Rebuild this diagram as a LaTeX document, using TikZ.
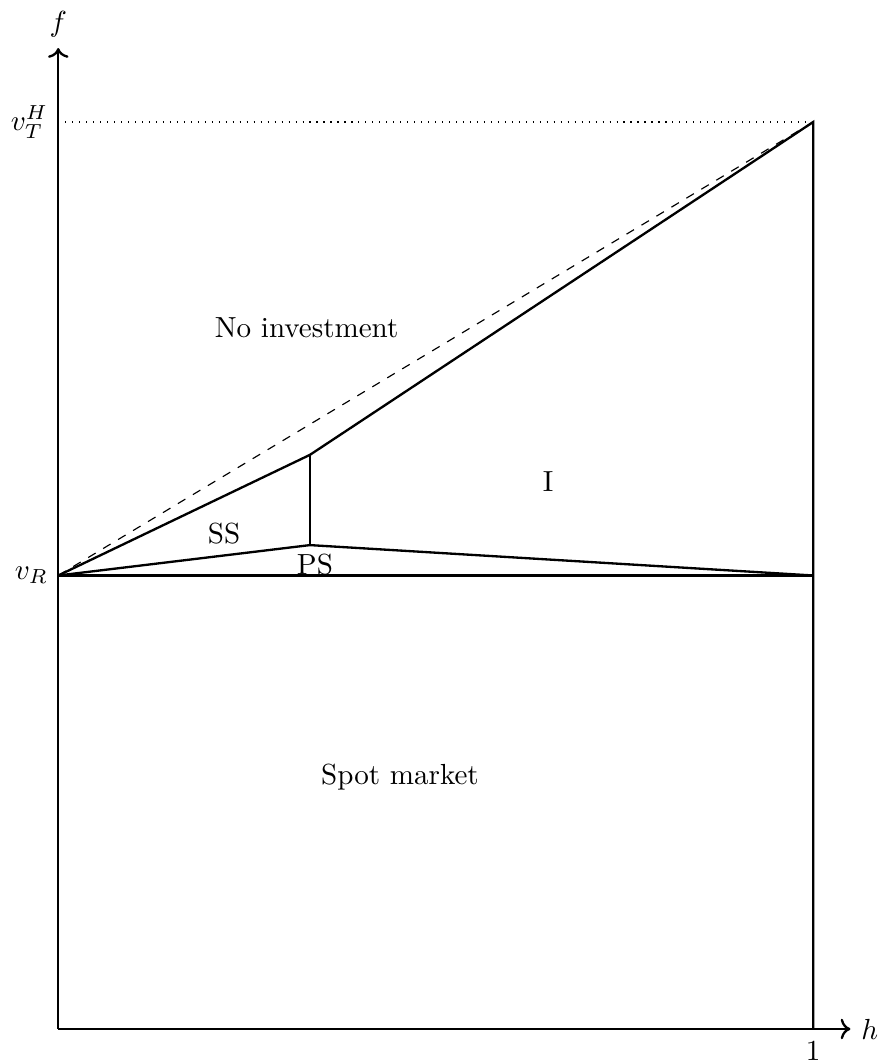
\documentclass[tikz,border=0pt]{standalone}
\usetikzlibrary{positioning,arrows.meta,calc}

\begin{document}
\begin{tikzpicture}[
    x=9.126cm, y=5.482cm,
    every node/.style={font=\normalsize},
    axis/.style={->,thick},
    bound/.style={thick},
    region/.style={inner sep=1pt},
]
\useasboundingbox (-0.0772,-0.0772) rectangle (1.0897,2.269);

% Key points of the frontier
\coordinate (O)  at (0,0);
\coordinate (R)  at (0,1);
\coordinate (R1) at (1,1);
\coordinate (T)  at (0,2);
\coordinate (T1) at (1,2);
\coordinate (K)  at (1/3,1.266);
\coordinate (P)  at (1/3,1.067);
\coordinate (B)  at (1,0);

% Axes
\draw[axis] (O) -- (1.0493,0) node[right] (h) {$h$};
\draw[axis] (O) -- (0,2.163) node[above] (f) {$f$};
\node[below=1pt] (one) at (B) {$1$};
\node[left] (vR) at (R) {$v_R$};
\node[left] (vT) at (T) {$v_T^H$};

% Boundaries
\draw[dotted] (T) -- (T1);
\draw[dashed] (R) -- (T1);
\draw[bound] (R) -- (K) -- (T1) -- (B);
\draw[bound] (K) -- (P);
\draw[bound] (R) -- (P) -- (R1);
\draw[bound] (R) -- (R1);

% Region labels
\node[region] (noinv) at (0.329,1.546) {No investment};
\node[region] (inv)   at (0.649,1.208) {I};
\node[region] (ss)    at (0.2197,1.0915) {SS};
\node[region] (ps)    at (0.340,1.023) {PS};
\node[region] (spot)  at (0.4526,0.556) {Spot market};
\end{tikzpicture}
\end{document}
